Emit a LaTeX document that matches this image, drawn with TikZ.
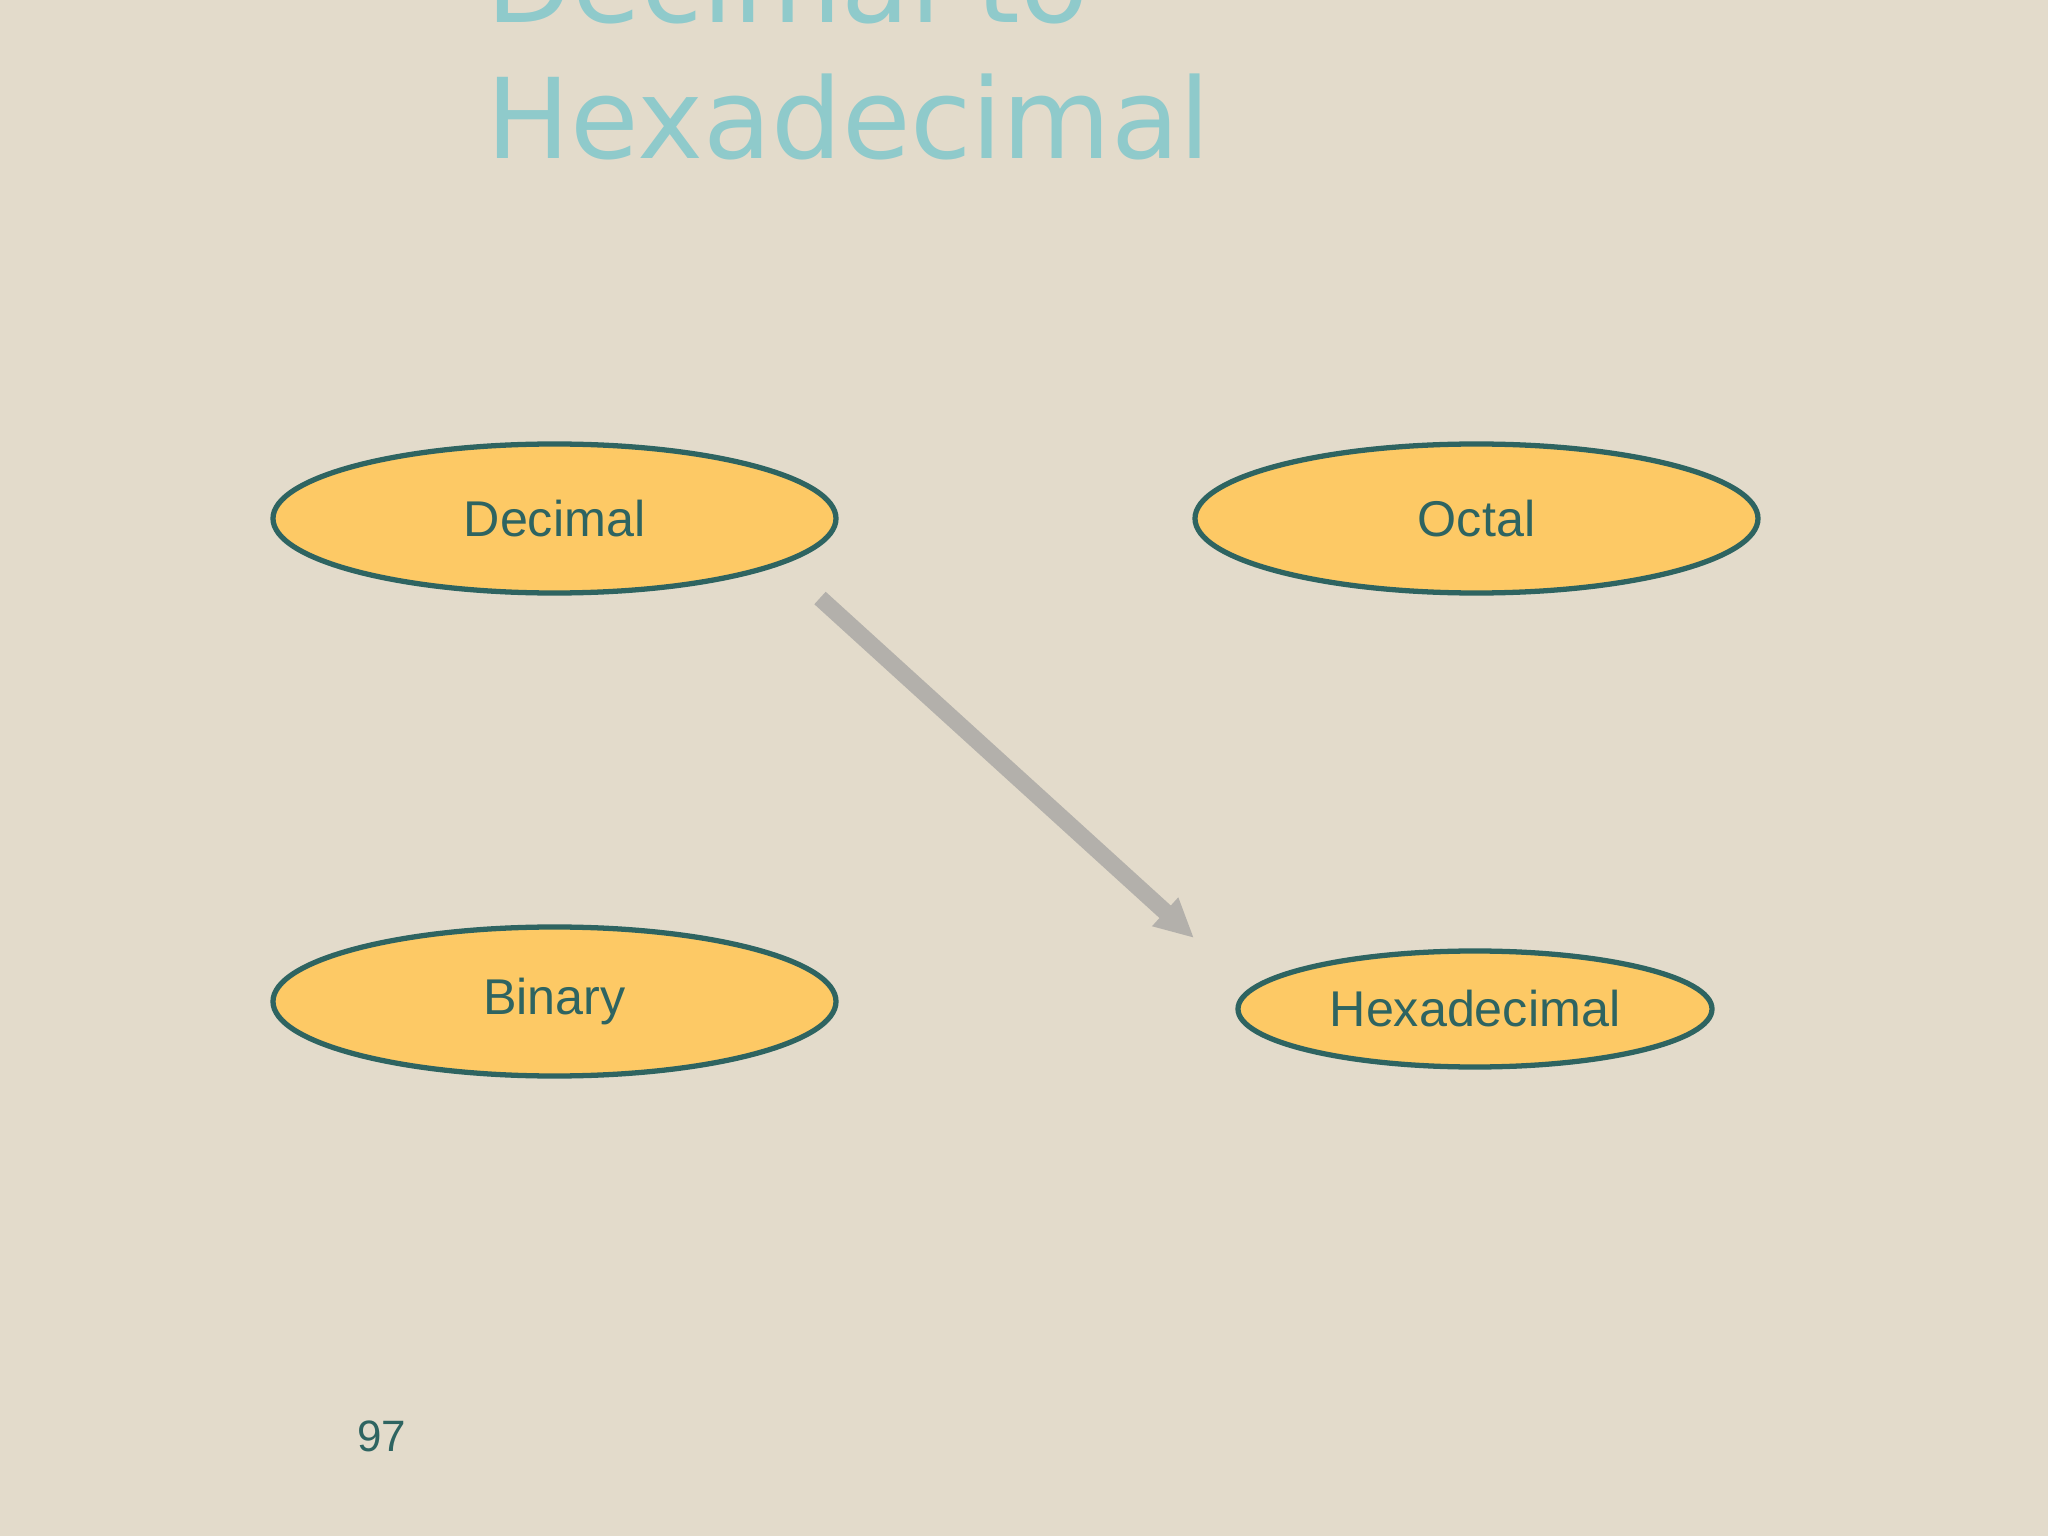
\documentclass[tikz,border=0pt]{standalone}
\usepackage{fontspec}
\setmainfont{Liberation Sans}
\newfontfamily\titlefont{DejaVu Sans}
\usepackage{tikz}
\usetikzlibrary{shapes.geometric}
\usetikzlibrary{arrows.meta}
\definecolor{paper}{HTML}{E3DBCB}
\definecolor{tealtxt}{HTML}{2E6461}
\definecolor{titlecol}{HTML}{8FCACB}
\definecolor{eggfill}{HTML}{FDC965}
\definecolor{arrowgray}{HTML}{B3B0AB}
\def\largeur{20.48}
\def\hauteur{15.36}

\begin{document}
\begin{tikzpicture}[x=1cm, y=1cm,
  base/.style={ellipse, draw=tealtxt, line width=1.5pt, fill=eggfill, text=tealtxt,
    font=\fontsize{14.3}{17}\selectfont, inner sep=0pt},
  bigbase/.style={base, minimum width=5.63cm, minimum height=1.49cm},
  smallbase/.style={base, minimum width=4.74cm, minimum height=1.16cm},
  titre/.style={anchor=base west, inner sep=0pt, text=titlecol, font=\titlefont\fontsize{31.7}{38}\selectfont},
  fleche/.style={arrowgray, line width=4.8pt, -{Triangle[length=0.39cm,width=0.36cm]}}]
\fill[paper] (0,0) rectangle (\largeur,-\hauteur);
\useasboundingbox (0,0) rectangle (\largeur,-\hauteur);
%\draw[step=1cm, black!20] (0,0) grid (\largeur,-\hauteur);
% title
\node[titre] (titre1) at (4.86,-0.23) {Decimal to};
\node[titre] (titre2) at (4.86,-1.59) {Hexadecimal};
% the four bases
\node[bigbase] (dec) at (5.545,-5.185) {Decimal};
\node[bigbase] (oct) at (14.765,-5.185) {Octal};
\node[bigbase] (bin) at (5.545,-10.015) {Binary};
\node[smallbase] (hex) at (14.75,-10.09) {Hexadecimal};
% arrow
\coordinate (depart) at (8.20,-5.98);
\coordinate (arrivee) at (11.94,-9.38);
\draw[fleche] (depart) -- (arrivee);
% page number
\node[text=tealtxt, font=\fontsize{12.5}{15}\selectfont] (page) at (3.82,-14.36) {97};
\end{tikzpicture}
\end{document}
